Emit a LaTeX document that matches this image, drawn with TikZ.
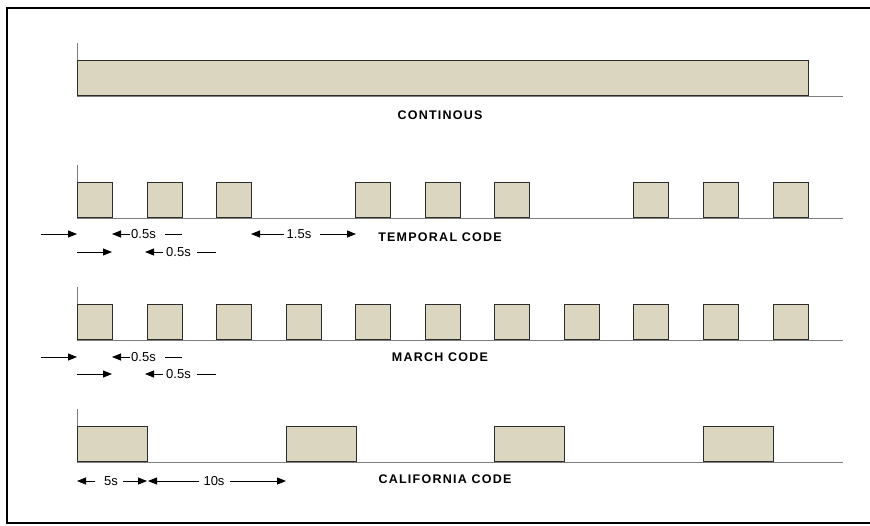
\documentclass[tikz,border=0pt]{standalone}
\usepackage{fontspec}
\setmainfont{Liberation Sans}
\newfontfamily\lblfont[LetterSpace=10]{Liberation Sans}
\usetikzlibrary{arrows.meta}
\definecolor{pulsefill}{RGB}{219,214,192}
\definecolor{pulseedge}{RGB}{45,45,45}
\definecolor{basegray}{RGB}{125,125,125}
\tikzset{
  pulse/.style={draw=pulseedge, fill=pulsefill, line width=0.9pt, rectangle, anchor=south west, inner sep=0pt, minimum height=35pt},
  short/.style={pulse, minimum width=35pt},
  longp/.style={pulse, minimum width=70pt},
  baseline/.style={draw=basegray, line width=0.9pt},
  codelabel/.style={font=\lblfont\bfseries\fontsize{12.5}{14}\selectfont, inner sep=0pt},
  dimlabel/.style={font=\fontsize{13}{15}\selectfont, inner sep=0pt},
  arr/.style={line width=0.8pt, -{Triangle[length=9pt,width=7pt]}},
  plain/.style={line width=0.8pt},
}
\begin{document}
\begin{tikzpicture}[x=1pt,y=-1pt]
\useasboundingbox (0,0) rectangle (870,525);
\begin{scope}
\clip (0,0) rectangle (870,525);
\draw[line width=2pt] (7,8) rectangle (900,523);
\end{scope}
% ---------- CONTINOUS ----------
\coordinate (c0t) at (77,43);
\coordinate (c0e) at (843,96);
\draw[baseline] (c0t) -- (77,96) -- (c0e);
\node[pulse, minimum width=731pt] (cbar) at (77,96) {};
\node[codelabel] (lcont) at (440,115) {CONTINOUS};
% ---------- TEMPORAL ----------
\coordinate (t0t) at (77,165);
\coordinate (t0e) at (843,218);
\draw[baseline] (t0t) -- (77,218) -- (t0e);
\foreach \i/\x in {1/77,2/147,3/216,4/355,5/425,6/494,7/633,8/703,9/773}
  \node[short] (tp\i) at (\x,218) {};
\node[codelabel] (ltemp) at (440,237) {TEMPORAL CODE};
% row A
\coordinate (ta0) at (41,234); \coordinate (ta1) at (77,234);
\draw[arr] (ta0) -- (ta1);
\node[dimlabel] (ta2) at (143.5,234) {0.5s};
\coordinate (ta3) at (112,234); \coordinate (ta4) at (165,234); \coordinate (ta5) at (182,234);
\draw[arr] (130,234) -- (ta3);
\draw[plain] (ta4) -- (ta5);
\node[dimlabel] (ta6) at (299,234) {1.5s};
\coordinate (ta7) at (251,234); \coordinate (ta8) at (356,234);
\draw[arr] (284,234) -- (ta7);
\draw[arr] (320,234) -- (ta8);
% row B
\coordinate (tb0) at (77,252); \coordinate (tb1) at (112,252);
\draw[arr] (tb0) -- (tb1);
\node[dimlabel] (tb2) at (178.5,252) {0.5s};
\coordinate (tb3) at (145,252); \coordinate (tb4) at (197,252); \coordinate (tb5) at (216,252);
\draw[arr] (163,252) -- (tb3);
\draw[plain] (tb4) -- (tb5);
% ---------- MARCH ----------
\coordinate (m0t) at (77,287);
\coordinate (m0e) at (843,340);
\draw[baseline] (m0t) -- (77,340) -- (m0e);
\foreach \i/\x in {1/77,2/147,3/216,4/286,5/355,6/425,7/494,8/564,9/633,10/703,11/773}
  \node[short] (mp\i) at (\x,340) {};
\node[codelabel] (lmarch) at (440,357) {MARCH CODE};
% row A
\coordinate (ma0) at (41,357); \coordinate (ma1) at (77,357);
\draw[arr] (ma0) -- (ma1);
\node[dimlabel] (ma2) at (143.5,357) {0.5s};
\coordinate (ma3) at (112,357); \coordinate (ma4) at (165,357); \coordinate (ma5) at (182,357);
\draw[arr] (130,357) -- (ma3);
\draw[plain] (ma4) -- (ma5);
% row B
\coordinate (mb0) at (77,374); \coordinate (mb1) at (112,374);
\draw[arr] (mb0) -- (mb1);
\node[dimlabel] (mb2) at (178.5,374) {0.5s};
\coordinate (mb3) at (145,374); \coordinate (mb4) at (197,374); \coordinate (mb5) at (216,374);
\draw[arr] (163,374) -- (mb3);
\draw[plain] (mb4) -- (mb5);
% ---------- CALIFORNIA ----------
\coordinate (k0t) at (77,409);
\coordinate (k0e) at (843,462);
\draw[baseline] (k0t) -- (77,462) -- (k0e);
\foreach \i/\x in {1/77,2/286,3/494,4/703}
  \node[longp] (kp\i) at (\x,462) {};
\node[codelabel] (lcal) at (445,479) {CALIFORNIA CODE};
\node[dimlabel] (k5) at (111,481) {5s};
\coordinate (ka0) at (77,481); \coordinate (ka1) at (147,481);
\draw[arr] (95,481) -- (ka0);
\draw[arr] (123,481) -- (ka1);
\node[dimlabel] (k10) at (214,481) {10s};
\coordinate (ka2) at (148,481); \coordinate (ka3) at (286,481);
\draw[arr] (199,481) -- (ka2);
\draw[arr] (230,481) -- (ka3);
\end{tikzpicture}
\end{document}
